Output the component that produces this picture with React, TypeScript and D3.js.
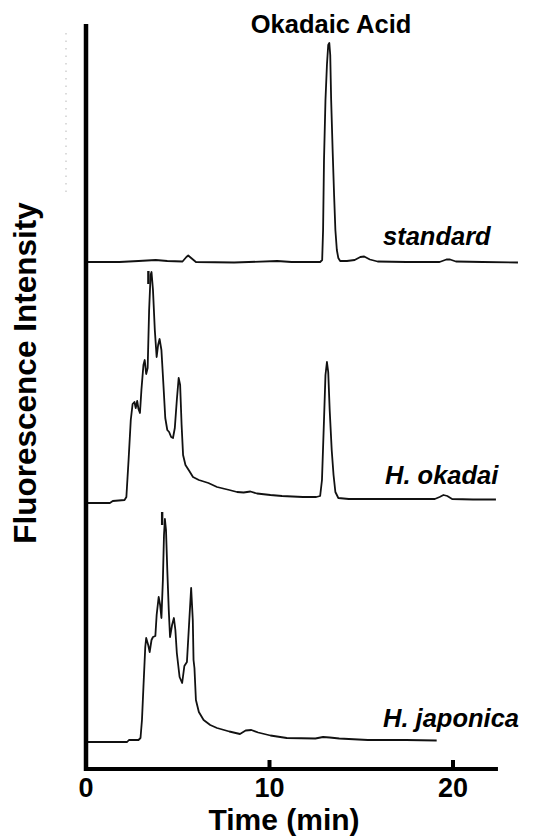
import React from "react";
import * as d3 from "d3";

// ---- data (time in min, signal above each trace's own baseline, arbitrary units) ----
const timeTicks = [0, 10, 20];
const seriesNames = ["standard", "H. okadai", "H. japonica"];
const seriesOffsets = [507, 266, 27];

const standardT = [0, 1.82, 2.86, 3.8, 4.43, 5.26, 5.47, 5.57, 5.73, 5.99, 8.07, 10.42, 11.2, 12.76, 12.87, 12.92, 12.97, 13.05, 13.13, 13.2, 13.26, 13.31, 13.36, 13.44, 13.52, 13.59, 13.67, 13.75, 13.85, 14.01, 14.22, 14.64, 14.95, 15.16, 15.47, 15.89, 17.45, 19.27, 19.64, 19.84, 20.16, 21.61, 23.54];
const standardS = [0, 0, 1, 2, 1, 0.5, 5, 6.5, 4, 0, -0.5, 1, 0, 0, 2, 32, 102, 162, 197, 217, 219, 207, 162, 112, 67, 32, 12, 4, 1, 1, 1, 2, 5, 5.5, 2.5, 0.5, 0, 0, 2.5, 2.5, 0.5, 0, -0.5];

const okadaiT = [0, 1.3, 1.46, 2.1, 2.2, 2.32, 2.44, 2.54, 2.64, 2.71, 2.79, 2.86, 2.94, 3.02, 3.13, 3.2, 3.28, 3.36, 3.44, 3.52, 3.57, 3.65, 3.75, 3.85, 3.93, 4.01, 4.11, 4.22, 4.32, 4.43, 4.53, 4.64, 4.74, 4.84, 4.95, 5.05, 5.13, 5.21, 5.29, 5.42, 5.63, 5.83, 6.15, 6.67, 7.14, 7.81, 8.23, 8.59, 8.96, 9.32, 10.05, 10.68, 11.82, 12.55, 12.76, 12.86, 12.97, 13.05, 13.13, 13.2, 13.28, 13.39, 13.49, 13.59, 13.75, 14.32, 16.41, 19.01, 19.27, 19.48, 19.69, 19.95, 21.09, 22.34];
const okadaiS = [0, 0, 2, 3, 6, 43, 83, 99, 101, 95, 102, 94, 90, 113, 138, 143, 129, 135, 193, 228, 231, 213, 173, 146, 158, 164, 153, 118, 85, 73, 71, 66, 65, 75, 103, 125, 118, 78, 48, 38, 32, 26, 23, 20, 16, 13, 11, 10.5, 11.5, 9.5, 8, 7, 6, 6, 7, 23, 83, 128, 141, 131, 93, 53, 28, 11, 5, 4, 4, 4, 6, 8, 7, 4, 3.5, 3.5];

const japonicaT = [0, 2.24, 2.34, 2.86, 2.97, 3.05, 3.13, 3.23, 3.28, 3.39, 3.47, 3.57, 3.65, 3.78, 3.85, 3.96, 4.04, 4.11, 4.19, 4.25, 4.3, 4.36, 4.43, 4.51, 4.58, 4.69, 4.79, 4.87, 4.95, 5.1, 5.24, 5.36, 5.5, 5.63, 5.73, 5.82, 5.86, 5.91, 5.99, 6.15, 6.41, 6.77, 7.14, 7.81, 8.39, 8.7, 9.01, 9.38, 10.05, 10.94, 12.5, 12.92, 13.28, 13.8, 15.36, 17.45, 19.11];
const japonicaS = [0, 0, 2, 2, 4, 22, 55, 95, 104, 97, 90, 102, 105, 106, 127, 145, 137, 124, 162, 207, 223, 212, 172, 132, 105, 117, 124, 112, 89, 65, 59, 76, 80, 122, 154, 122, 82, 74, 42, 30, 22, 17, 14, 10.5, 8, 11.5, 12, 9.5, 6.5, 4, 3.5, 5, 4.5, 3.5, 2, 2, 1.5];

// small vertical marks drawn under the first two traces (time, series index)
const markTimes = [3.4, 4.15];
const markSeries = [0, 1];

const FONT = "'Liberation Sans', Arial, Helvetica, sans-serif";

export default function App() {
  const W = 544;
  const H = 836;
  const x = d3.scaleLinear().domain([0, 20]).range([86, 453]);
  const y = d3.scaleLinear().domain([0, 745]).range([769, 24]);
  const xMax = 22.45;

  const seriesT = [standardT, okadaiT, japonicaT];
  const seriesS = [standardS, okadaiS, japonicaS];

  const line = d3
    .line<[number, number]>()
    .x((d) => x(d[0]))
    .y((d) => y(d[1]))
    .curve(d3.curveLinear);

  const paths = seriesT.map((ts, i) =>
    line(ts.map((t, k) => [t, seriesS[i][k] + seriesOffsets[i]] as [number, number]))
  );

  const labelX = [383, 385, 383];
  const labelDy = [17, 19, 15];

  return (
    <svg
      width={W}
      height={H}
      viewBox={`0 0 ${W} ${H}`}
      style={{ position: "absolute", left: 0, top: 0, background: "#fff" }}
    >
      <rect x={0} y={0} width={W} height={H} fill="#fff" />
      {/* faint dotted artifact line */}
      <line
        x1={66}
        x2={66}
        y1={y(736)}
        y2={y(572)}
        stroke="#cfcfcf"
        strokeWidth={1.5}
        strokeDasharray="1.5 6"
      />

      {/* traces */}
      {paths.map((p, i) => (
        <path
          key={i}
          d={p || ""}
          fill="none"
          stroke="#111"
          strokeWidth={1.8}
          strokeLinejoin="round"
        />
      ))}

      {/* marks under traces */}
      {markTimes.map((t, i) => (
        <line
          key={i}
          x1={x(t)}
          x2={x(t)}
          y1={y(seriesOffsets[markSeries[i]] - 9)}
          y2={y(seriesOffsets[markSeries[i]] - 22)}
          stroke="#111"
          strokeWidth={2.4}
        />
      ))}

      {/* axes */}
      <line x1={x(0)} x2={x(0)} y1={y(745)} y2={y(-2)} stroke="#000" strokeWidth={4.5} />
      <line x1={x(0) - 2} x2={x(xMax)} y1={y(0)} y2={y(0)} stroke="#000" strokeWidth={4.2} />
      {timeTicks
        .filter((t) => t > 0)
        .map((t) => (
          <line key={t} x1={x(t)} x2={x(t)} y1={y(0)} y2={y(9)} stroke="#000" strokeWidth={4} />
        ))}
      {timeTicks.map((t) => (
        <text
          key={t}
          x={x(t)}
          y={797}
          textAnchor="middle"
          fontFamily={FONT}
          fontWeight="bold"
          fontSize={27}
          fill="#000"
        >
          {t}
        </text>
      ))}
      <text
        x={284}
        y={830}
        textAnchor="middle"
        fontFamily={FONT}
        fontWeight="bold"
        fontSize={30}
        fill="#000"
      >
        Time (min)
      </text>
      <text
        transform="translate(36,373) rotate(-90)"
        textAnchor="middle"
        fontFamily={FONT}
        fontWeight="bold"
        fontSize={31.5}
        fill="#000"
      >
        Fluorescence Intensity
      </text>

      {/* peak label */}
      <text
        x={331}
        y={33}
        textAnchor="middle"
        fontFamily={FONT}
        fontWeight="bold"
        fontSize={25.5}
        fill="#000"
      >
        Okadaic Acid
      </text>

      {/* series labels */}
      {seriesNames.map((n, i) => (
        <text
          key={n}
          x={labelX[i]}
          y={y(seriesOffsets[i]) - labelDy[i]}
          fontFamily={FONT}
          fontWeight="bold"
          fontStyle="italic"
          fontSize={25.5}
          fill="#000"
        >
          {n}
        </text>
      ))}
    </svg>
  );
}
